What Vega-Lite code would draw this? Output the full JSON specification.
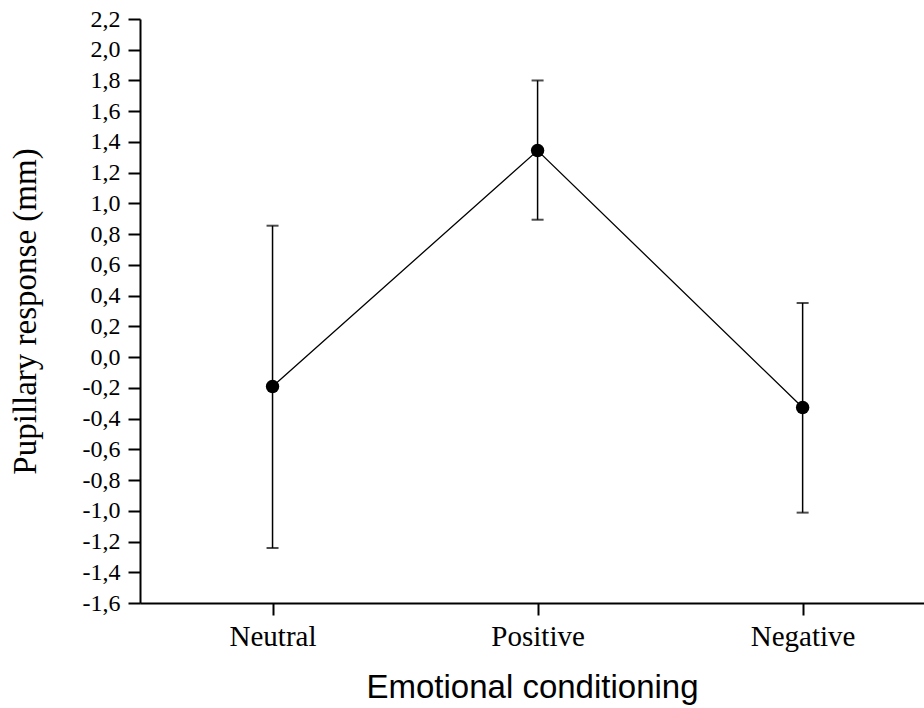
{
  "$schema": "https://vega.github.io/schema/vega-lite/v6.json",
  "width": 784,
  "height": 584,
  "autosize": {"type": "none"},
  "padding": {"left": 140, "top": 19, "right": 0, "bottom": 105},
  "background": "white",
  "config": {
    "view": {"stroke": null},
    "axis": {"grid": false, "domainColor": "black", "tickColor": "black", "labelColor": "black", "titleColor": "black"}
  },
  "data": {
    "values": [
      {"condition": "Neutral", "mean": -0.191, "lower": -1.242, "upper": 0.855},
      {"condition": "Positive", "mean": 1.344, "lower": 0.894, "upper": 1.80},
      {"condition": "Negative", "mean": -0.328, "lower": -1.012, "upper": 0.352}
    ]
  },
  "encoding": {
    "x": {
      "field": "condition",
      "type": "nominal",
      "sort": ["Neutral", "Positive", "Negative"],
      "scale": {"type": "point", "padding": 0.479, "align": 0.522},
      "axis": {
        "title": "Emotional conditioning",
        "titleFont": "Liberation Sans",
        "titleFontSize": 33,
        "titleFontWeight": "normal",
        "titlePadding": 20,
        "labelFont": "Liberation Serif",
        "labelFontSize": 29,
        "labelAngle": 0,
        "labelPadding": 7,
        "labelOverlap": false,
        "tickSize": 12,
        "tickWidth": 2,
        "domainWidth": 2
      }
    }
  },
  "layer": [
    {
      "mark": {"type": "rule", "color": "black", "strokeWidth": 1.5},
      "encoding": {
        "y": {
          "field": "lower",
          "type": "quantitative",
          "scale": {"domain": [-1.6, 2.2], "nice": false, "zero": false},
          "axis": {
            "title": "Pupillary response (mm)",
            "titleFont": "Liberation Serif",
            "titleFontSize": 33,
            "titleFontWeight": "normal",
            "titleX": -98,
            "titleBaseline": "bottom",
            "labelFont": "Liberation Serif",
            "labelFontSize": 24,
            "labelPadding": 8,
            "labelOverlap": false,
            "labelFlush": false,
            "tickSize": 12,
            "tickWidth": 2,
            "domainWidth": 2,
            "tickCount": 40,
            "values": [-1.6, -1.4, -1.2, -1.0, -0.8, -0.6, -0.4, -0.2, 0, 0.2, 0.4, 0.6, 0.8, 1.0, 1.2, 1.4, 1.6, 1.8, 2.0, 2.2],
            "labelExpr": "replace(replace(format(datum.value, '.1f'), '.', ','), '\u2212', '-')"
          }
        },
        "y2": {"field": "upper"}
      }
    },
    {
      "mark": {"type": "tick", "color": "black", "size": 12, "thickness": 2},
      "encoding": {"y": {"field": "lower", "type": "quantitative"}}
    },
    {
      "mark": {"type": "tick", "color": "black", "size": 12, "thickness": 2},
      "encoding": {"y": {"field": "upper", "type": "quantitative"}}
    },
    {
      "mark": {"type": "line", "color": "black", "strokeWidth": 1.3},
      "encoding": {"y": {"field": "mean", "type": "quantitative"}}
    },
    {
      "mark": {"type": "point", "filled": true, "color": "black", "size": 180, "opacity": 1},
      "encoding": {"y": {"field": "mean", "type": "quantitative"}}
    }
  ]
}
